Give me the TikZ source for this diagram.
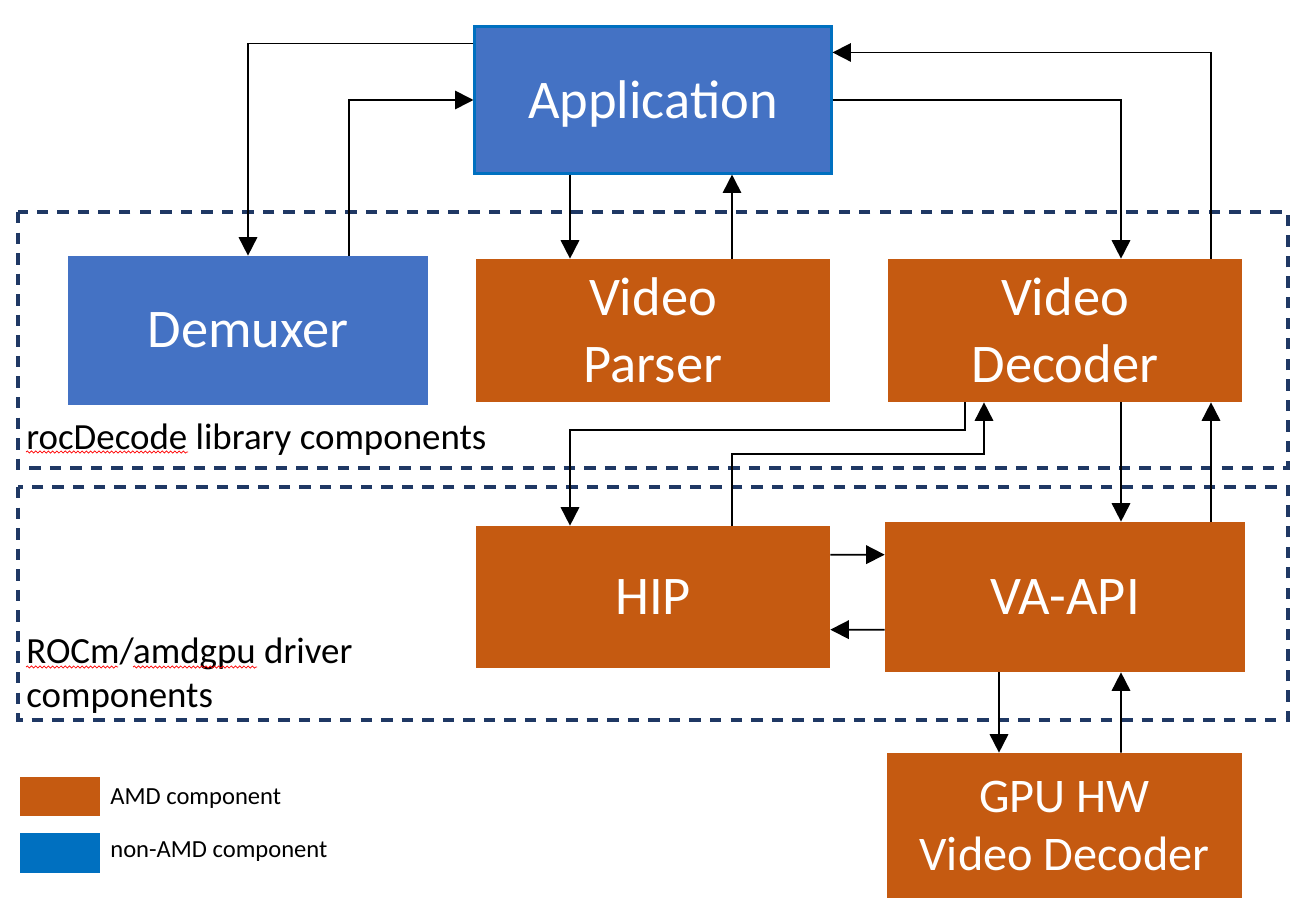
\documentclass[tikz,border=0pt]{standalone}
\usepackage{fontspec}
\setmainfont{Carlito}
\usetikzlibrary{arrows.meta,calc,decorations.pathmorphing}
\definecolor{amdorange}{HTML}{C55A11}
\definecolor{appblue}{HTML}{4472C4}
\definecolor{edgeblue}{HTML}{0070C0}
\definecolor{frameblue}{HTML}{1F3864}
\tikzset{
  comp/.style={rectangle, inner sep=0pt, text=white, align=center, font=\fontsize{31}{38}\selectfont},
  amd/.style={comp, fill=amdorange},
  nonamd/.style={comp, fill=appblue},
  flow/.style={-{Triangle[length=10.5pt,width=10.5pt]}, line width=1pt, black},
  grp/.style={draw=frameblue, line width=1.9pt, dash pattern=on 6.5pt off 5.2pt},
  grplbl/.style={anchor=base west, inner sep=0pt, font=\fontsize{21}{25}\selectfont},
  leglbl/.style={anchor=base west, inner sep=0pt, font=\fontsize{14}{17}\selectfont},
  squig/.style={red, line width=0.4pt, decorate, decoration={snake, segment length=2.4pt, amplitude=0.6pt}}
}
\begin{document}
\begin{tikzpicture}[x=0.02cm, y=-0.02cm]
\useasboundingbox (0,0) rectangle (1312,922);
% frames
\draw[grp] (18,212) rectangle (1288,468);
\draw[grp] (18,487) rectangle (1288,720);
\node[grplbl] (liblbl) at (26,449) {rocDecode library components};
\node[grplbl, align=left] (drvlbl) at (26,707) {ROCm/amdgpu driver\\components};
\draw[squig] (26,452) -- (188,452);
\draw[squig] (26,667) -- (118,667);
\draw[squig] (133,667) -- (257,667);
% components
\node[nonamd, draw=edgeblue, line width=1.2pt, minimum width=7.14cm, minimum height=2.94cm] (app) at (653,100) {};
\node[comp] (apptxt) at ($(app.center)+(0,4)$) {Application};
\node[nonamd, minimum width=7.2cm, minimum height=2.98cm] (demux) at (248,330.5) {Demuxer};
\node[amd, minimum width=7.08cm, minimum height=2.86cm] (parser) at (653,330.5) {Video\\Parser};
\node[amd, minimum width=7.08cm, minimum height=2.86cm] (dec) at (1065,330.5) {Video\\Decoder};
\node[amd, minimum width=7.08cm, minimum height=2.84cm] (hip) at (653,597) {HIP};
\node[amd, minimum width=7.2cm, minimum height=3cm] (va) at (1065,597) {VA-API};
\node[amd, font=\fontsize{27.5}{33}\selectfont, minimum width=7.1cm, minimum height=2.9cm] (gpu) at (1064.5,825.5) {GPU HW\\Video Decoder};
% arrows
\draw[flow] ($(app.north west)+(0,18)$) -| (demux.north);
\draw[flow] ($(demux.north)+(101,0)$) |- (app.west);
\draw[flow] ($(app.south)+(-83,0)$) -- ($(parser.north)+(-83,0)$);
\draw[flow] ($(parser.north)+(79,0)$) -- ($(app.south)+(79,0)$);
\draw[flow] (app.east) -| ($(dec.north)+(56,0)$);
\draw[flow] ($(dec.north)+(146,0)$) |- ($(app.north east)+(0,27)$);
\draw[flow] ($(dec.south)+(-100,0)$) -- ++(0,28) -| ($(hip.north)+(-83,0)$);
\draw[flow] ($(hip.north)+(79,0)$) -- ++(0,-72) -| ($(dec.south)+(-81,0)$);
\draw[flow] ($(dec.south)+(56,0)$) -- ($(va.north)+(56,0)$);
\draw[flow] ($(va.north)+(146,0)$) -- ($(dec.south)+(146,0)$);
\draw[flow] ($(hip.north east)+(0,29)$) -- ($(va.north west)+(0,33)$);
\draw[flow] ($(va.north west)+(0,108)$) -- ($(hip.north east)+(0,104)$);
\draw[flow] ($(va.south)+(-66,0)$) -- ($(gpu.north)+(-65.5,0)$);
\draw[flow] ($(gpu.north)+(56.5,0)$) -- ($(va.south)+(56,0)$);
% legend
\node[fill=amdorange, inner sep=0pt, minimum width=1.6cm, minimum height=0.78cm] (legamd) at (60,796.5) {};
\node[leglbl] (legamdtxt) at (110,804) {AMD component};
\node[fill=edgeblue, inner sep=0pt, minimum width=1.6cm, minimum height=0.8cm] (legnon) at (60,853) {};
\node[leglbl] (legnontxt) at (110,857) {non-AMD component};
\end{tikzpicture}
\end{document}
